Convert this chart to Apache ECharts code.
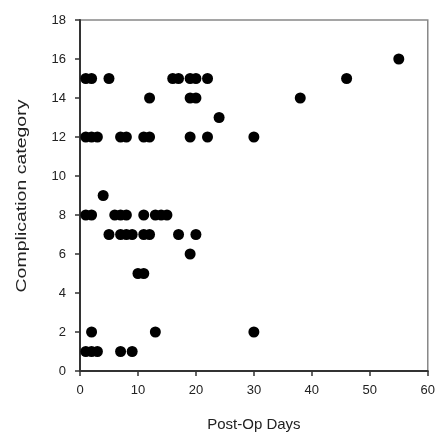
<!DOCTYPE html>
<html>
<head>
<meta charset="utf-8">
<script src="https://cdn.jsdelivr.net/npm/echarts@6/dist/echarts.min.js"></script>
<style>html,body{margin:0;padding:0;background:#fff}#c{width:438px;height:441px}</style>
</head>
<body>
<div id="c"></div>
<script>
var days =     [1,2,3,7,9, 2,13,30, 10,11, 19, 5,7,8,9,11,12,17,20, 1,2,6,7,8,11,13,14,15, 4, 1,2,3,7,8,11,12,19,22,30, 24, 12,19,20,38, 1,2,5,16,17,19,20,22,46, 55];
var category = [1,1,1,1,1, 2,2,2,   5,5,   6,  7,7,7,7,7,7,7,7,       8,8,8,8,8,8,8,8,8,    9, 12,12,12,12,12,12,12,12,12,12, 13, 14,14,14,14, 15,15,15,15,15,15,15,15,15, 16];
var xTicks = [0,10,20,30,40,50,60];
var yTicks = [0,2,4,6,8,10,12,14,16,18];
var xTitle = 'Post-Op Days';
var yTitle = 'Complication category';

var pts = days.map(function(d,i){return [d, category[i]];});
var font = 'Liberation Sans, Arial, sans-serif';
var chart = echarts.init(document.getElementById('c'));
chart.setOption({
  animation:false,
  grid:{left:80,right:8,top:20,bottom:70,show:true,borderColor:'#888',borderWidth:1.5},
  graphic:[{type:'text',x:22,y:196,rotation:Math.PI/2,scaleX:1.3,scaleY:1,
    style:{text:yTitle,fontFamily:font,fontSize:15,fill:'#222',align:'center',verticalAlign:'middle'}}],
  xAxis:{type:'value',min:xTicks[0],max:xTicks[xTicks.length-1],interval:10,
    name:xTitle,nameLocation:'middle',nameGap:46,
    nameTextStyle:{fontFamily:font,fontSize:15,color:'#222'},
    axisLine:{show:true,onZero:false,lineStyle:{color:'#333',width:2}},
    axisTick:{show:true,length:5,lineStyle:{color:'#333',width:1.5}},
    axisLabel:{fontFamily:font,fontSize:13,color:'#222',margin:13},
    splitLine:{show:false}},
  yAxis:{type:'value',min:yTicks[0],max:yTicks[yTicks.length-1],interval:2,
    axisLine:{show:true,onZero:false,lineStyle:{color:'#333',width:2}},
    axisTick:{show:true,length:5,lineStyle:{color:'#333',width:1.5}},
    axisLabel:{fontFamily:font,fontSize:13,color:'#222',margin:14},
    splitLine:{show:false}},
  series:[{type:'scatter',data:pts,symbol:'circle',symbolSize:11,
    itemStyle:{color:'#000',opacity:1}}]
});
</script>
</body>
</html>
